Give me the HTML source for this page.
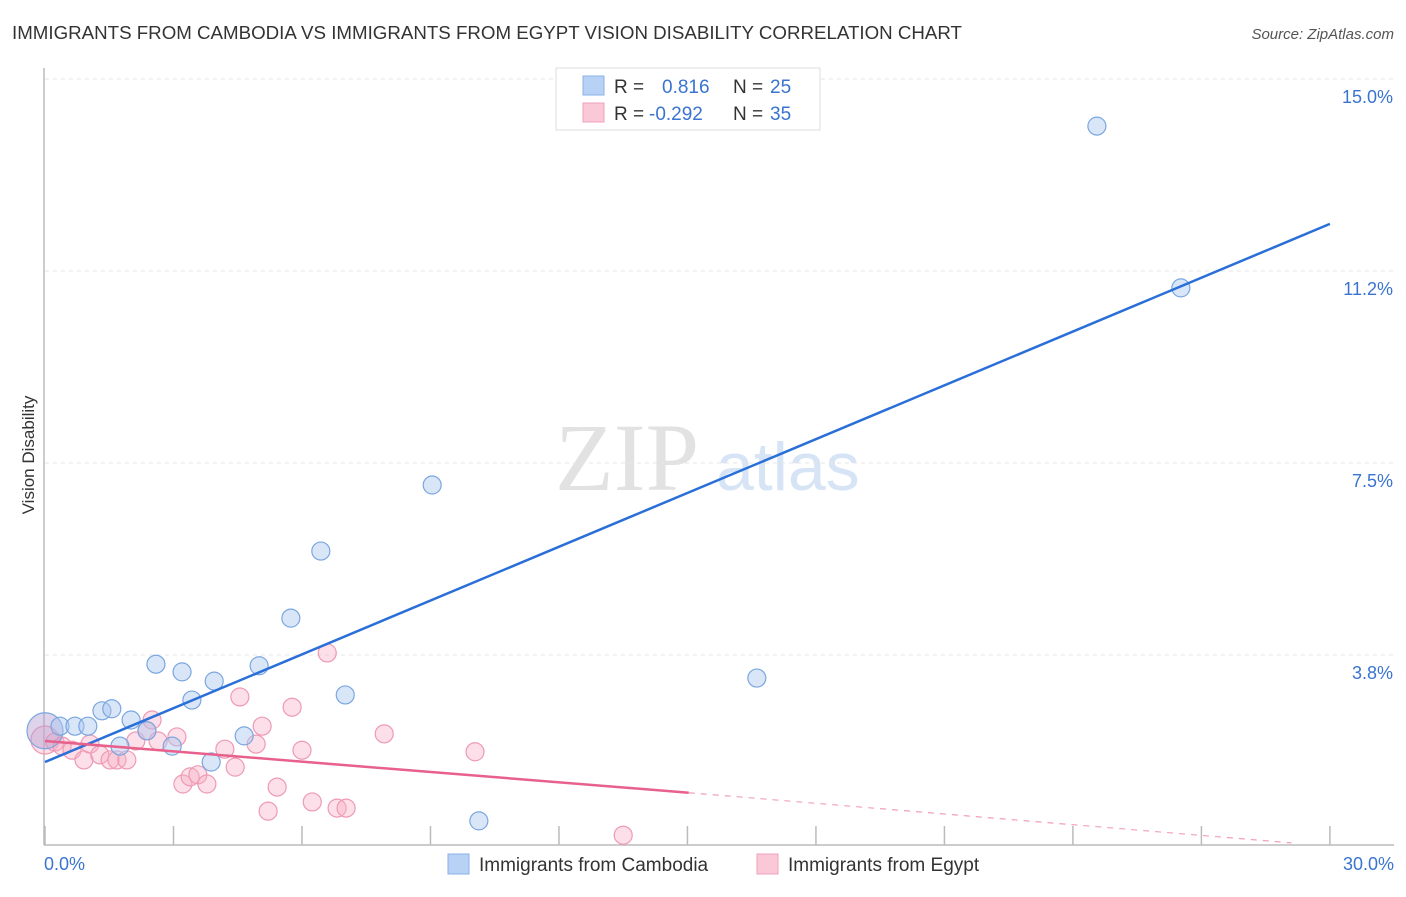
<!DOCTYPE html>
<html><head><meta charset="utf-8"><style>
body{margin:0;background:#fff;font-family:"Liberation Sans",sans-serif}
</style></head><body>
<svg width="1406" height="892" xmlns="http://www.w3.org/2000/svg" id="svg">
<text x="12" y="39" font-size="18" fill="#333" textLength="950" lengthAdjust="spacingAndGlyphs">IMMIGRANTS FROM CAMBODIA VS IMMIGRANTS FROM EGYPT VISION DISABILITY CORRELATION CHART</text>
<text x="1394" y="39" font-size="15" fill="#555" text-anchor="end" font-style="italic">Source: ZipAtlas.com</text>
<text x="555" y="490" font-size="96" fill="#e2e2e2" font-family="Liberation Serif,serif">ZIP</text>
<text x="716" y="490" font-size="68" fill="#d6e4f5">atlas</text>
<text x="34" y="455" font-size="17" fill="#333" text-anchor="middle" transform="rotate(-90 34 455)">Vision Disability</text>
<g id="grid"></g><g id="pts"></g><g id="lines"></g>
<g>
<rect x="556" y="68" width="264" height="62" fill="#fff" stroke="#ddd"/>
<rect x="583" y="76" width="21" height="19" fill="#b8d2f5" stroke="#8ab0e6"/>
<rect x="583" y="103" width="21" height="19" fill="#fac8d6" stroke="#f0a0b8"/>
<text x="614" y="93" font-size="19" fill="#333">R = </text><text x="662" y="93" font-size="19" fill="#3a74d0">0.816</text>
<text x="733" y="93" font-size="19" fill="#333">N = </text><text x="770" y="93" font-size="19" fill="#3a74d0">25</text>
<text x="614" y="120" font-size="19" fill="#333">R = </text><text x="649" y="120" font-size="19" fill="#3a74d0">-0.292</text>
<text x="733" y="120" font-size="19" fill="#333">N = </text><text x="770" y="120" font-size="19" fill="#3a74d0">35</text>
</g>
<g>
<rect x="448" y="854" width="21" height="20" fill="#b8d2f5" stroke="#8ab0e6"/>
<text x="479" y="871" font-size="19" fill="#333">Immigrants from Cambodia</text>
<rect x="757" y="854" width="21" height="20" fill="#fac8d6" stroke="#f0a0b8"/>
<text x="788" y="871" font-size="19" fill="#333">Immigrants from Egypt</text>
</g>
<text x="44" y="870" font-size="18" fill="#3a74d0">0.0%</text>
<text x="1394" y="870" font-size="18" fill="#3a74d0" text-anchor="end">30.0%</text>
</svg>
<script>
const yTicks=[15.0,11.25,7.5,3.75];
const yTickLabels=["15.0%","11.2%","7.5%","3.8%"];
const xTicks=[0,3,6,9,12,15,18,21,24,27,30];
const cambX=[0,0.35,0.70,1.00,1.33,1.56,1.75,2.01,2.38,2.59,2.97,3.20,3.43,3.88,3.95,4.65,5.00,5.74,6.44,7.01,9.04,10.13,16.62,24.56,26.52];
const cambY=[2.27,2.36,2.36,2.36,2.66,2.70,1.97,2.48,2.27,3.57,1.97,3.42,2.87,1.66,3.24,2.17,3.54,4.47,5.78,2.97,7.07,0.51,3.30,14.08,10.92];
const egX=[0,0.23,0.40,0.63,0.91,1.05,1.28,1.52,1.68,1.91,2.12,2.38,2.50,2.64,3.08,3.22,3.39,3.57,3.78,4.20,4.44,4.55,4.93,5.07,5.21,5.42,5.77,6.00,6.24,6.59,6.82,7.03,7.92,10.04,13.50];
const egY=[2.09,2.05,1.97,1.89,1.70,2.01,1.80,1.70,1.70,1.70,2.07,2.27,2.48,2.07,2.15,1.23,1.37,1.41,1.23,1.91,1.56,2.93,2.01,2.36,0.70,1.17,2.73,1.89,0.88,3.79,0.76,0.76,2.21,1.86,0.23];
const cambLine=[[0,1.66],[30,12.17]];
const egLine=[[0,2.07],[15.03,1.06]];
const egDash=[[15.03,1.06],[29.1,0.08]];
const X=v=>45+v*42.83, Y=v=>847-v*51.2;
const NS="http://www.w3.org/2000/svg";
function mk(t,a,p){const e=document.createElementNS(NS,t);for(const k in a)e.setAttribute(k,a[k]);document.getElementById(p).appendChild(e);return e;}
yTicks.forEach((t,i)=>{
 const l=mk('line',{x1:45,x2:1394,y1:Y(t),y2:Y(t),stroke:'#e6e6e6','stroke-dasharray':'4,4'},'grid');
 
 
 const tx=mk('text',{x:1393,y:Y(t)+24,'font-size':18,fill:'#3a74d0','text-anchor':'end'},'grid');tx.textContent=yTickLabels[i];
 
 
});
let ax=mk('line',{x1:44,x2:44,y1:68,y2:845,stroke:'#bbb','stroke-width':1.5},'grid');


let bx=mk('line',{x1:44,x2:1394,y1:845,y2:845,stroke:'#bbb','stroke-width':1.5},'grid');


xTicks.forEach(t=>{const l=mk('line',{x1:X(t),x2:X(t),y1:826,y2:845,stroke:'#bbb','stroke-width':1.5},'grid');
 
 });
egX.forEach((v,i)=>{const c=mk('circle',{cx:X(v),cy:Y(egY[i]),r:i==0?14:9,fill:'rgba(248,175,198,0.4)',stroke:'#ee9ab4','stroke-width':1.2},'pts');
 
 });
cambX.forEach((v,i)=>{const c=mk('circle',{cx:X(v),cy:Y(cambY[i]),r:i==0?18:9,fill:i==0?'rgba(180,160,210,0.45)':'rgba(170,200,240,0.45)',stroke:'#7aa6e0','stroke-width':1.2},'pts');
 
 });
function ln(d,col,dash,name,w){const l=mk('line',{x1:X(d[0][0]),y1:Y(d[0][1]),x2:X(d[1][0]),y2:Y(d[1][1]),stroke:col,'stroke-width':w},'lines');if(dash)l.setAttribute('stroke-dasharray','6,6');
 
 }
ln(cambLine,'#2a6fd8',0,'cambodia-trendline',2.5);
ln(egLine,'#e8608c',0,'egypt-trendline',2.5);
ln(egDash,'#f0a0b8',1,'egypt-trendline-extension',1.2);
</script>
</body></html>
